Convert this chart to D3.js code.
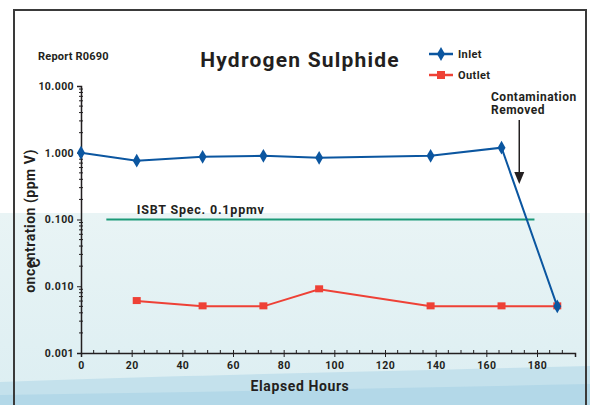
<!DOCTYPE html>
<html>
<head>
<meta charset="utf-8">
<script src="https://cdn.jsdelivr.net/npm/d3@7"></script>
<style>
  body { margin: 0; background: #fff; }
  text { font-family: Roboto, "DejaVu Sans", sans-serif; fill: #231f20; }
</style>
</head>
<body>
<div id="chart"></div>
<script>
// Data
const hours = [0, 22, 48, 72, 94, 138, 166, 188];
const inlet = [1.0, 0.76, 0.87, 0.9, 0.84, 0.9, 1.19, 0.005];
const outletHours = [22, 48, 72, 94, 138, 166, 188];
const outlet = [0.006, 0.005, 0.005, 0.009, 0.005, 0.005, 0.005];
const specRange = [10, 179];
const specValue = 0.1;
const yTicks = [0.001, 0.01, 0.1, 1, 10];
const xTicks = [0, 20, 40, 60, 80, 100, 120, 140, 160, 180];
const arrowHour = 173;

const W = 590, H = 405;
const margin = { top: 86, right: 15, bottom: 52, left: 81 };
const width = 575 - margin.left;
const height = 353 - margin.top;

const svg = d3.select('#chart').append('svg')
    .attr('width', W).attr('height', H);

// Background
const defs = svg.append('defs');
const grad = defs.append('linearGradient').attr('id', 'bg')
    .attr('x1', 0).attr('y1', 0).attr('x2', 0).attr('y2', 1);
grad.append('stop').attr('offset', '0%').attr('stop-color', '#e9f4f5');
grad.append('stop').attr('offset', '100%').attr('stop-color', '#dceef2');
svg.append('rect').attr('x', 0).attr('y', 213).attr('width', W).attr('height', H - 213)
    .attr('fill', 'url(#bg)');
svg.append('path')
    .attr('d', 'M0,382 C150,376 350,372 590,366 L590,405 L0,405 Z')
    .attr('fill', '#c4e1ec');
svg.append('path')
    .attr('d', 'M0,395 C200,392 400,388 590,384 L590,405 L0,405 Z')
    .attr('fill', '#b3d8e8');

// Frame
svg.append('path')
    .attr('d', 'M14,405 L14,10 L586,10 L586,405')
    .attr('fill', 'none').attr('stroke', '#3a3a3a').attr('stroke-width', 2);

const g = svg.append('g').attr('transform', `translate(${margin.left},${margin.top})`);

// Scales
const x = d3.scaleLinear().domain([0, 195]).range([0, width]);
const y = d3.scaleLog().domain([0.001, 10]).range([height, 0]);

// Axes
const yAxis = g.append('g')
    .call(d3.axisLeft(y).tickValues(yTicks).tickFormat(d3.format('.3f')).tickSize(4));
const minorY = [];
for (let e = -3; e < 1; e++) for (let k = 2; k <= 9; k++) minorY.push(k * Math.pow(10, e));
yAxis.selectAll('.minor').data(minorY).enter().append('line')
    .attr('x1', -2).attr('x2', 2).attr('y1', d => y(d)).attr('y2', d => y(d))
    .attr('stroke', '#231f20');

const xAxis = g.append('g').attr('transform', `translate(0,${height})`)
    .call(d3.axisBottom(x).tickValues(xTicks).tickSize(4));
const minorX = d3.range(5, 195, 5).filter(d => d % 20 !== 0);
xAxis.selectAll('.minor').data(minorX).enter().append('line')
    .attr('x1', d => x(d)).attr('x2', d => x(d)).attr('y1', 0).attr('y2', -3)
    .attr('stroke', '#231f20');
xAxis.selectAll('.tick line').attr('y1', -3);

[yAxis, xAxis].forEach(a => {
    a.select('.domain').attr('stroke', '#231f20').attr('stroke-width', 1.5);
    a.selectAll('.tick line').attr('stroke', '#231f20');
    a.selectAll('.tick text').style('font-family', 'Roboto, sans-serif')
        .style('font-size', '10.5px').style('font-weight', 700)
        .style('letter-spacing', '0.4px').attr('fill', '#231f20');
});
xAxis.selectAll('.tick text').attr('dy', '0.9em');

// Spec line
g.append('line')
    .attr('x1', x(specRange[0])).attr('x2', x(specRange[1]))
    .attr('y1', y(specValue)).attr('y2', y(specValue))
    .attr('stroke', '#1b9a78').attr('stroke-width', 2);
g.append('text').attr('x', x(22)).attr('y', y(specValue) - 6)
    .style('font-size', '12.5px').style('font-weight', 700).style('letter-spacing', '0.8px')
    .text('ISBT Spec. 0.1ppmv');

// Lines
const line = d3.line().x(d => x(d[0])).y(d => y(d[1]));
const inletData = hours.map((h, i) => [h, inlet[i]]);
const outletData = outletHours.map((h, i) => [h, outlet[i]]);

g.append('path').datum(outletData).attr('d', line)
    .attr('fill', 'none').attr('stroke', '#ee4136').attr('stroke-width', 2);
g.selectAll('.osq').data(outletData).enter().append('rect')
    .attr('x', d => x(d[0]) - 4).attr('y', d => y(d[1]) - 4)
    .attr('width', 8).attr('height', 7).attr('fill', '#ee4136');

g.append('path').datum(inletData).attr('d', line)
    .attr('fill', 'none').attr('stroke', '#0b56a0').attr('stroke-width', 2);
const diamond = d3.symbol().type(d3.symbolDiamond).size(55);
g.selectAll('.idm').data(inletData).enter().append('path')
    .attr('d', diamond)
    .attr('transform', d => `translate(${x(d[0])},${y(d[1])})`)
    .attr('fill', '#0b56a0');

// Annotation arrow
const ax = x(arrowHour);
g.append('line').attr('x1', ax).attr('x2', ax).attr('y1', 120 - margin.top).attr('y2', 172 - margin.top)
    .attr('stroke', '#231f20').attr('stroke-width', 1.5);
g.append('path')
    .attr('d', `M${ax - 5},${172 - margin.top} L${ax + 5},${172 - margin.top} L${ax},${184 - margin.top} Z`)
    .attr('fill', '#231f20');
svg.append('text').attr('x', 491).attr('y', 101)
    .style('font-size', '12px').style('font-weight', 700).style('letter-spacing', '0.5px')
    .text('Contamination');
svg.append('text').attr('x', 491).attr('y', 114)
    .style('font-size', '12px').style('font-weight', 700).style('letter-spacing', '0.5px')
    .text('Removed');

// Titles
svg.append('text').attr('x', 300).attr('y', 67).attr('text-anchor', 'middle')
    .style('font-size', '21px').style('font-weight', 700).style('letter-spacing', '1.2px')
    .text('Hydrogen Sulphide');
svg.append('text').attr('x', 38).attr('y', 60)
    .style('font-size', '11px').style('font-weight', 700).style('letter-spacing', '0.2px')
    .text('Report R0690');
svg.append('text').attr('x', 300).attr('y', 391).attr('text-anchor', 'middle')
    .style('font-size', '14px').style('font-weight', 700).style('letter-spacing', '0.6px')
    .text('Elapsed Hours');

// Y label (the source shows the "C" displaced)
svg.append('text').attr('transform', 'translate(35,221) rotate(-90)')
    .attr('text-anchor', 'middle')
    .style('font-size', '14px').style('font-weight', 700).style('letter-spacing', '0.5px')
    .text('oncentration (ppm V)');
svg.append('text').attr('transform', 'translate(40,263) rotate(-90)')
    .attr('text-anchor', 'middle')
    .style('font-size', '14px').style('font-weight', 700).text('C');

// Legend
const legend = [
    { name: 'Inlet', color: '#0b56a0', shape: 'diamond', y: 54 },
    { name: 'Outlet', color: '#ee4136', shape: 'square', y: 75 }
];
legend.forEach(l => {
    svg.append('line').attr('x1', 429).attr('x2', 453).attr('y1', l.y).attr('y2', l.y)
        .attr('stroke', l.color).attr('stroke-width', 2.5);
    if (l.shape === 'diamond') {
        svg.append('path').attr('d', diamond).attr('transform', `translate(441,${l.y})`)
            .attr('fill', l.color);
    } else {
        svg.append('rect').attr('x', 437).attr('y', l.y - 4).attr('width', 8).attr('height', 8)
            .attr('fill', l.color);
    }
    svg.append('text').attr('x', 458).attr('y', l.y + 4)
        .style('font-size', '11px').style('font-weight', 700).style('letter-spacing', '0.4px')
        .text(l.name);
});
</script>
</body>
</html>
